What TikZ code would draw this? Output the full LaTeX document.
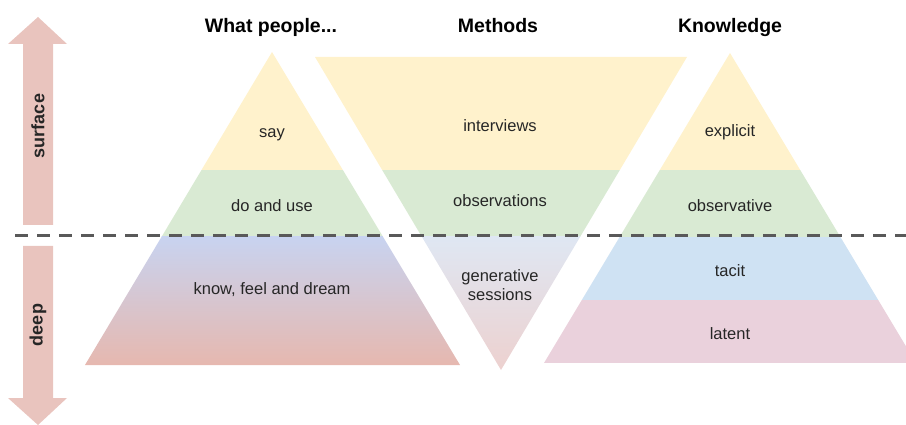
\documentclass[tikz,border=0pt]{standalone}
\usepackage{fontspec}
\setmainfont{Liberation Sans}
\begin{document}
\definecolor{bandyellow}{HTML}{FFF2CC}
\definecolor{bandgreen}{HTML}{D9EAD3}
\definecolor{bandblue}{HTML}{CFE2F3}
\definecolor{bandpink}{HTML}{EAD1DC}
\definecolor{deeptop}{HTML}{C8D3F0}
\definecolor{deepbottom}{HTML}{E6B8AF}
\definecolor{gentop}{HTML}{DFE7F3}
\definecolor{genbottom}{HTML}{EDD1CF}
\definecolor{arrowfill}{HTML}{E9C4BE}
\definecolor{dashgray}{HTML}{595959}
\definecolor{labelgray}{HTML}{262626}
\begin{tikzpicture}[x=1pt,y=-1pt,
  header/.style={font=\fontsize{19.5}{22}\selectfont\bfseries, text=black, inner sep=0pt,
    text height=14pt, text depth=4pt},
  bandlabel/.style={font=\fontsize{16.5}{19}\selectfont, text=labelgray, inner sep=0pt, align=center},
  onelabel/.style={bandlabel, text height=12pt, text depth=3.5pt},
  sidelabel/.style={font=\fontsize{18}{20}\selectfont\bfseries, text=labelgray, inner sep=0pt, rotate=90},
  divider/.style={draw=dashgray, line width=3pt, dash pattern=on 13pt off 9pt}]
\useasboundingbox (0,0) rectangle (906,425);
\clip (0,0) rectangle (906,425);

% left pyramid: what people say / do / know
\begin{scope}
  \clip (272,52) -- (460,365) -- (85,365) -- cycle;
  \fill[bandyellow] (0,0) rectangle (906,170);
  \fill[bandgreen] (0,170) rectangle (906,237);
  \shade[top color=deeptop, bottom color=deepbottom] (80,237) rectangle (465,365);
\end{scope}

% inverted pyramid: methods
\begin{scope}
  \clip (315,57) -- (687,57) -- (501,370) -- cycle;
  \fill[bandyellow] (0,0) rectangle (906,170);
  \fill[bandgreen] (0,170) rectangle (906,237);
  \shade[top color=gentop, bottom color=genbottom] (310,237) rectangle (690,370);
\end{scope}

% right pyramid: knowledge
\begin{scope}
  \clip (730,53) -- (916,363) -- (544,363) -- cycle;
  \fill[bandyellow] (0,0) rectangle (906,170);
  \fill[bandgreen] (0,170) rectangle (906,237);
  \fill[bandblue] (0,237) rectangle (920,300);
  \fill[bandpink] (0,300) rectangle (920,363);
\end{scope}

% surface / deep arrows
\fill[arrowfill] (38,17) -- (67,44) -- (53,44) -- (53,225) -- (23,225) -- (23,44) -- (8,44) -- cycle;
\fill[arrowfill] (23,246) -- (53,246) -- (53,398) -- (67,398) -- (38,425) -- (8,398) -- (23,398) -- cycle;

% divider between surface and deep
\coordinate (divL) at (15,236);
\coordinate (divR) at (906,236);
\draw[divider] (divL) -- (divR);

% headers
\node[header] (hpeople) at (271,28) {What people...};
\node[header] (hmethods) at (498,28) {Methods};
\node[header] (hknow) at (730,28) {Knowledge};

% side labels
\node[sidelabel] (surface) at (38,126) {surface};
\node[sidelabel] (deep) at (38,325) {deep};

% band labels
\node[onelabel] (say) at (272,133) {say};
\node[onelabel] (douse) at (272,207) {do and use};
\node[onelabel] (kfd) at (272,290) {know, feel and dream};

\node[onelabel] (interviews) at (500,127) {interviews};
\node[onelabel] (observations) at (500,202) {observations};
\node[bandlabel] (generative) at (500,285) {generative\\sessions};

\node[onelabel] (explicit) at (730,132) {explicit};
\node[onelabel] (observative) at (730,207) {observative};
\node[onelabel] (tacit) at (730,272) {tacit};
\node[onelabel] (latent) at (730,335) {latent};
\end{tikzpicture}
\end{document}
